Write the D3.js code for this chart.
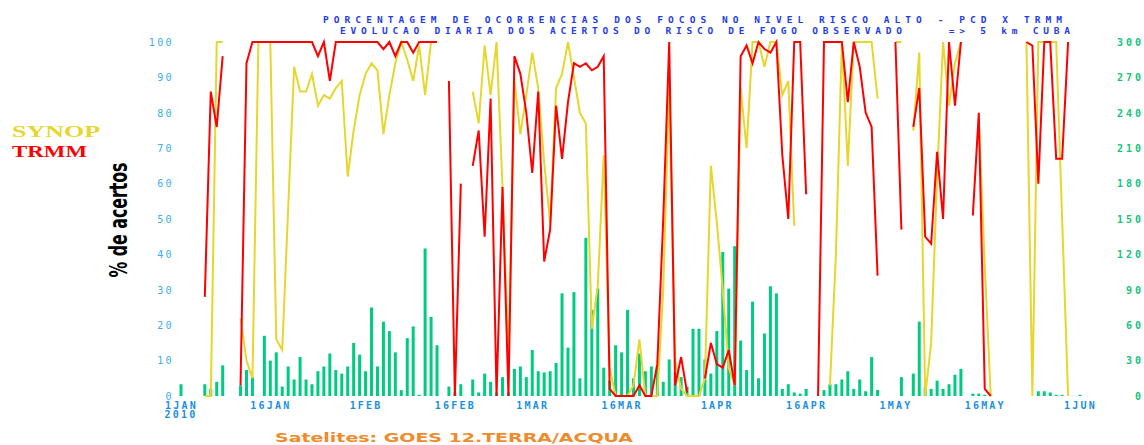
<!DOCTYPE html>
<html><head><meta charset="utf-8">
<script src="https://cdn.jsdelivr.net/npm/d3@7"></script>
<style>html,body{margin:0;padding:0;background:#fff;overflow:hidden}</style>
</head><body>
<svg id="c" width="1144" height="445"></svg>
<script>
// ---- DATA (one value per day, 1 Jan 2010 .. 1 Jun 2010) ----
const startDay = "2010-01-01";
const fires = [10,0,0,0,10,6,12,26,0,0,
 9,22,16,0,51,30,37,8,25,14,
 33,14,10,21,25,36,22,19,25,45,
 35,21,75,25,63,55,37,5,49,59,
 1,125,67,43,0,8,3,10,0,14,
 3,19,12,3,16,3,23,25,16,39,
 21,20,21,28,87,41,88,15,134,73,
 91,24,13,43,37,73,15,36,21,25,
 25,12,31,20,16,8,57,57,31,19,
 55,122,91,127,47,22,80,15,53,93,
 87,6,10,3,2,6,0,0,5,10,
 10,14,21,6,14,4,33,5,0,0,
 0,16,0,19,63,8,6,13,6,10,
 18,23,0,2,2,1,0,0,0,0,
 0,0,0,0,4,4,3,1,1,0,
 0,1];
const N = null;
const synop = [N,N,N,N,0,0,100,100,N,N,
 22,10,5,100,100,100,16,13,53,93,
 86,86,91,82,85,84,87,89,62,75,
 85,91,94,92,74,85,94,100,95,89,
 99,85,100,100,N,N,N,N,N,86,
 77,99,85,100,59,10,89,74,85,97,
 87,66,49,87,91,100,90,80,77,19,
 31,68,8,0,0,0,3,16,0,0,
 0,30,88,10,2,0,0,0,5,65,
 49,30,8,3,87,70,100,100,93,100,
 100,85,89,48,N,N,N,N,N,3,
 40,100,65,100,100,100,100,84,N,N,
 100,100,N,75,97,0,15,62,100,82,
 94,100,N,N,78,37,0,N,N,N,
 N,N,100,0,100,100,100,100,50,0,
 N,N];
const trmm = [N,N,N,N,28,86,76,96,N,N,
 3,94,100,100,100,100,100,100,100,100,
 100,100,100,96,100,89,100,100,100,100,
 100,100,100,100,98,100,96,100,100,97,
 100,100,100,100,N,89,0,60,N,65,
 75,45,84,0,59,0,96,91,80,63,
 86,38,47,82,67,83,94,93,94,92,
 93,96,2,0,0,0,0,3,0,0,
 9,50,100,3,11,1,N,N,5,15,
 9,8,13,3,96,99,94,100,98,97,
 100,68,50,100,100,57,N,0,100,100,
 100,100,83,100,93,80,76,34,N,N,
 100,47,N,76,87,45,43,69,50,100,
 82,100,N,51,80,2,0,N,N,N,
 N,N,100,99,60,100,100,67,67,100,
 N,N];
const leftTicks = [0,10,20,30,40,50,60,70,80,90,100];
const rightTicks = [0,30,60,90,120,150,180,210,240,270,300];
const xTickDates = ["2010-01-01","2010-01-16","2010-02-01","2010-02-16","2010-03-01","2010-03-16","2010-04-01","2010-04-16","2010-05-01","2010-05-16","2010-06-01"];
const xTickLabels = ["1JAN","16JAN","1FEB","16FEB","1MAR","16MAR","1APR","16APR","1MAY","16MAY","1JUN"];
const titleLines = ["PORCENTAGEM DE OCORRENCIAS DOS FOCOS NO NIVEL RISCO ALTO - PCD X TRMM",
                    "EVOLUCAO DIARIA DOS ACERTOS DO RISCO DE FOGO OBSERVADO    => 5 km CUBA"];
const seriesNames = ["SYNOP","TRMM"];
const yTitle = "% de acertos";
const footer = "Satelites: GOES 12.TERRA/ACQUA";

// ---- CHART ----
const svg = d3.select("#c");
const parse = d3.utcParse("%Y-%m-%d");
const d0 = parse(startDay);
const day = i => d3.utcDay.offset(d0, i);
const x = d3.scaleUtc().domain([parse("2010-01-01"), parse("2010-06-01")]).range([181, 1080]);
const yL = d3.scaleLinear().domain([0,100]).range([396,42]);
const yR = d3.scaleLinear().domain([0,300]).range([396,42]);

const C = {bar:"#00cc80", syn:"#e6d62e", trm:"#ff0000", lt:"#3aaef0", xt:"#1a8fe6", rt:"#12c47c", title:"#1e3cf2", foot:"#f08a2a"};
const mono = "'DejaVu Sans Mono', monospace";

// bars
svg.append("g").selectAll("rect").data(fires.map((v,i)=>({v,i})).filter(d=>d.v>0))
  .join("rect")
  .attr("x", d => x(day(d.i)) - 1.5).attr("width", 3)
  .attr("y", d => yR(d.v)).attr("height", d => yR(0) - yR(d.v))
  .attr("fill", C.bar);

// lines
const line = d3.line().defined(d => d.v != null).x(d => x(day(d.i))).y(d => yL(d.v));
svg.append("path").datum(synop.map((v,i)=>({v,i})))
  .attr("d", line).attr("fill","none").attr("stroke", C.syn).attr("stroke-width", 2);
svg.append("path").datum(trmm.map((v,i)=>({v,i})))
  .attr("d", line).attr("fill","none").attr("stroke", C.trm).attr("stroke-width", 2);

// left axis
const gl = svg.append("g").attr("transform","translate(174,0)")
  .call(d3.axisLeft(yL).tickValues(leftTicks).tickSize(0).tickPadding(0));
gl.select(".domain").remove();
gl.selectAll("text").attr("fill", C.lt).style("font-family", mono).style("font-size","10px")
  .style("font-weight","normal").style("letter-spacing","2.4px");

// right axis
const gr = svg.append("g").attr("transform","translate(1144,0)")
  .call(d3.axisRight(yR).tickValues(rightTicks).tickSize(0).tickPadding(0));
gr.select(".domain").remove();
gr.selectAll("text").attr("fill", C.rt).attr("text-anchor","end").style("font-family", mono)
  .style("font-size","10px").style("font-weight","bold").style("letter-spacing","3px");

// x axis
const gx = svg.append("g").attr("transform","translate(0,396)")
  .call(d3.axisBottom(x).tickValues(xTickDates.map(parse)).tickFormat((d,i)=>xTickLabels[i]).tickSize(0).tickPadding(6));
gx.select(".domain").remove();
gx.selectAll("text").attr("fill", C.xt).style("font-family", mono).style("font-size","10px")
  .style("font-weight","bold").style("letter-spacing","2.2px");
svg.append("text").attr("x", x(parse("2010-01-01"))).attr("y", 418).attr("text-anchor","middle")
  .attr("fill", C.xt).style("font-family", mono).style("font-size","10px").style("font-weight","bold")
  .style("letter-spacing","2.2px").text("2010");

// title
const tl = [{x:323, y:22.5, w:739}, {x:340, y:33.5, w:730}];
titleLines.forEach((t,i) => {
  svg.append("text").attr("x", tl[i].x).attr("y", tl[i].y).attr("textLength", tl[i].w)
    .attr("lengthAdjust","spacing").style("white-space","pre")
    .attr("fill", C.title).style("font-family", mono).style("font-size","9.5px").style("font-weight","bold")
    .text(t);
});

// legend
const lg = [{y:137, w:88, c:C.syn}, {y:157, w:75, c:C.trm}];
seriesNames.forEach((s,i) => {
  svg.append("text").attr("x", 12).attr("y", lg[i].y).attr("textLength", lg[i].w)
    .attr("lengthAdjust","spacingAndGlyphs").attr("fill", lg[i].c)
    .style("font-family","'Liberation Serif', serif").style("font-size","17px").style("font-weight","bold").text(s);
});

// y title
svg.append("text").attr("transform","translate(127,220) rotate(-90)").attr("text-anchor","middle")
  .attr("textLength",115).attr("lengthAdjust","spacingAndGlyphs")
  .style("font-family","'DejaVu Sans', sans-serif").style("font-size","25px").style("font-weight","bold")
  .attr("fill","#000").text(yTitle);

// footer
svg.append("text").attr("x", 275).attr("y", 441.5).attr("textLength", 358).attr("lengthAdjust","spacingAndGlyphs")
  .attr("fill", C.foot).style("font-family","'DejaVu Sans', sans-serif").style("font-size","12.5px")
  .style("font-weight","bold").text(footer);
</script>
</body></html>
